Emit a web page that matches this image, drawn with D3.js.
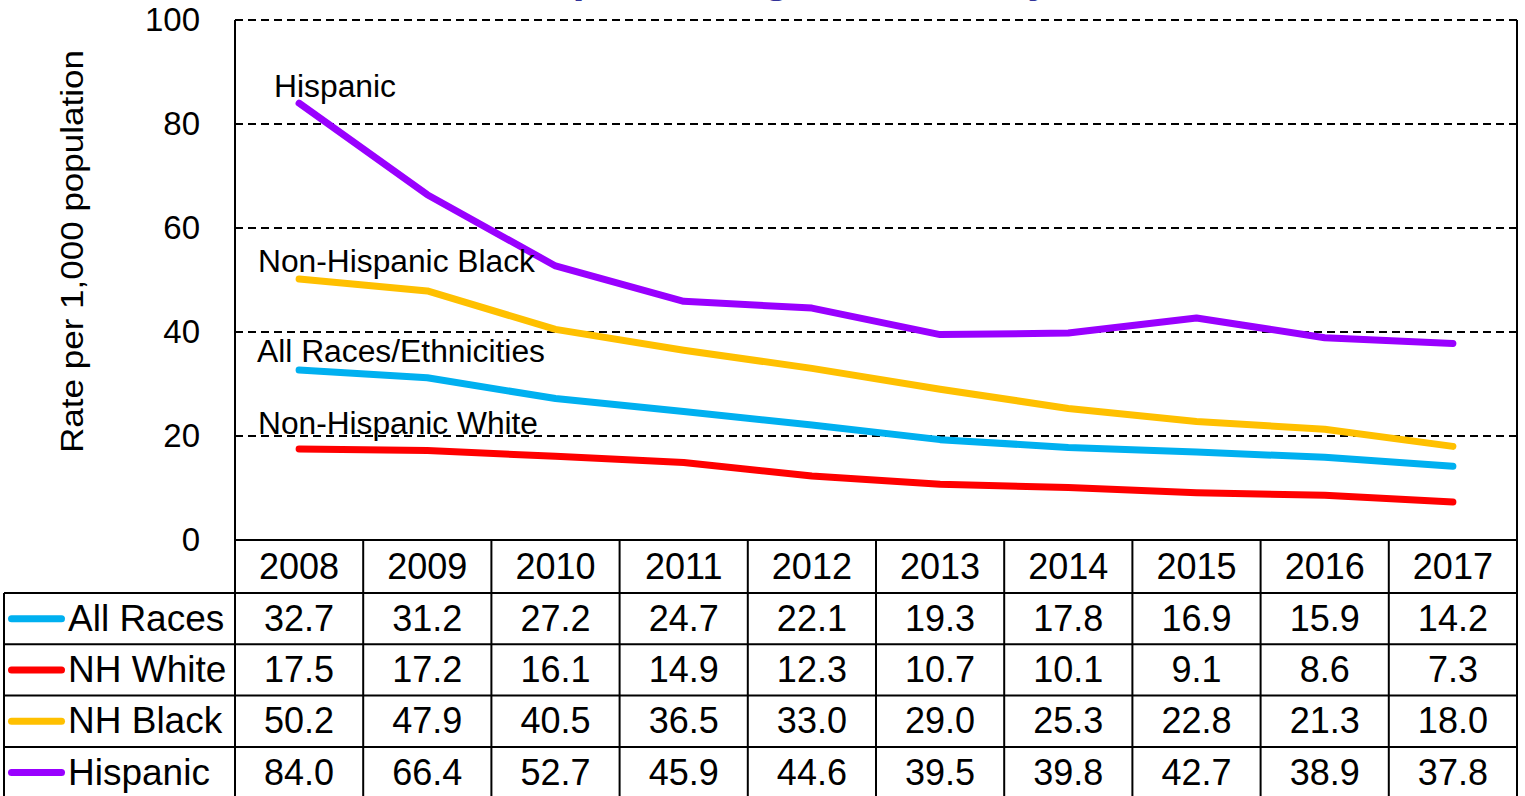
<!DOCTYPE html>
<html>
<head>
<meta charset="utf-8">
<script src="https://cdn.jsdelivr.net/npm/d3@7"></script>
<style>
  html, body { margin: 0; padding: 0; background: #fff; }
  svg { display: block; }
  text { font-family: "Liberation Sans", Arial, sans-serif; fill: #000; }
</style>
</head>
<body>
<svg id="chart" width="1525" height="796"></svg>
<script>
// ---- data ----
const years = [2008, 2009, 2010, 2011, 2012, 2013, 2014, 2015, 2016, 2017];
const allRaces = [32.7, 31.2, 27.2, 24.7, 22.1, 19.3, 17.8, 16.9, 15.9, 14.2];
const nhWhite  = [17.5, 17.2, 16.1, 14.9, 12.3, 10.7, 10.1, 9.1, 8.6, 7.3];
const nhBlack  = [50.2, 47.9, 40.5, 36.5, 33.0, 29.0, 25.3, 22.8, 21.3, 18.0];
const hispanic = [84.0, 66.4, 52.7, 45.9, 44.6, 39.5, 39.8, 42.7, 38.9, 37.8];
const yTicks = [0, 20, 40, 60, 80, 100];
const seriesNames = ["All Races", "NH White", "NH Black", "Hispanic"];
const annotationLabels = ["All Races/Ethnicities", "Non-Hispanic White", "Non-Hispanic Black", "Hispanic"];
const colors = ["#00B0F0", "#FF0000", "#FFC000", "#9900FF"];
const titleText = "Hispanic Origin, Kentucky, 2008\u20132017";
const yTitle = "Rate per 1,000 population";

const series = [allRaces, nhWhite, nhBlack, hispanic];

// ---- layout ----
const L = 235, R = 1517, T = 20, B = 540;
const tableLeft = 4, headerH = 53, rowH = 51.3, tableBottom = 800;

const svg = d3.select("#chart");

const x = d3.scaleBand().domain(years).range([L, R]).paddingInner(0).paddingOuter(0);
const xc = d => x(d) + x.bandwidth() / 2;
const y = d3.scaleLinear().domain([0, 100]).range([B, T]);

// title (cut off at top in reference)
svg.append("text").attr("x", 504).attr("y", -8)
  .style("font-size", "44px").style("font-weight", "bold").style("fill", "#333399")
  .text(titleText);

// gridlines
svg.append("g").selectAll("line").data(yTicks.filter(d => d > 0)).join("line")
  .attr("x1", L).attr("x2", R).attr("y1", d => y(d)).attr("y2", d => y(d))
  .attr("stroke", "#000").attr("stroke-width", 2).attr("stroke-dasharray", "8,5");

// y axis tick labels
const yAxis = d3.axisLeft(y).tickValues(yTicks).tickSize(0).tickPadding(35).tickFormat(d3.format("d"));
const ga = svg.append("g").attr("transform", `translate(${L},0)`).call(yAxis);
ga.select(".domain").remove();
ga.selectAll("text").style("font-size", "33px").style("font-family", "'Liberation Sans', Arial, sans-serif").attr("fill", "#000");

// y axis title
svg.append("text").attr("transform", "translate(83,251.5) rotate(-90)")
  .attr("text-anchor", "middle").style("font-size", "31px")
  .attr("textLength", 403).attr("lengthAdjust", "spacingAndGlyphs")
  .text(yTitle);

// lines
const line = d3.line().x((d, i) => xc(years[i])).y(d => y(d));
svg.append("g").selectAll("path").data(series).join("path")
  .attr("d", d => line(d)).attr("fill", "none")
  .attr("stroke", (d, i) => colors[i]).attr("stroke-width", 7)
  .attr("stroke-linejoin", "round").attr("stroke-linecap", "round");

// annotations
const ann = [
  { i: 3, x: 274, y: 97, len: 122 },
  { i: 2, x: 258, y: 272, len: 277 },
  { i: 0, x: 257, y: 362, len: 288 },
  { i: 1, x: 258, y: 434, len: 280 }
];
svg.append("g").selectAll("text").data(ann).join("text")
  .attr("x", d => d.x).attr("y", d => d.y).style("font-size", "31px")
  .attr("textLength", d => d.len).attr("lengthAdjust", "spacingAndGlyphs")
  .text(d => annotationLabels[d.i]);

// ---- data table ----
const tg = svg.append("g");
const rowTops = [B + headerH];
for (let k = 1; k <= 4; k++) rowTops.push(B + headerH + k * rowH);

// horizontal lines
tg.append("line").attr("x1", L).attr("x2", R).attr("y1", B).attr("y2", B);
rowTops.forEach(yy => tg.append("line").attr("x1", tableLeft).attr("x2", R).attr("y1", yy).attr("y2", yy));
// vertical lines
tg.append("line").attr("x1", L).attr("x2", L).attr("y1", T).attr("y2", tableBottom);
tg.append("line").attr("x1", R).attr("x2", R).attr("y1", T).attr("y2", tableBottom);
tg.append("line").attr("x1", tableLeft).attr("x2", tableLeft).attr("y1", B + headerH).attr("y2", tableBottom);
years.slice(1).forEach(yr => tg.append("line").attr("x1", x(yr)).attr("x2", x(yr)).attr("y1", B).attr("y2", tableBottom));
tg.selectAll("line").attr("stroke", "#000").attr("stroke-width", 2);

// header years
tg.append("g").selectAll("text").data(years).join("text")
  .attr("x", d => xc(d)).attr("y", B + headerH / 2 + 12)
  .attr("text-anchor", "middle").style("font-size", "36px").text(d => d);

// rows
seriesNames.forEach((name, r) => {
  const mid = rowTops[r] + rowH / 2;
  tg.append("line").attr("x1", 11.5).attr("x2", 61.5).attr("y1", mid).attr("y2", mid)
    .attr("stroke", colors[r]).attr("stroke-width", 7).attr("stroke-linecap", "round");
  tg.append("text").attr("x", 68).attr("y", mid + 12).style("font-size", "37px").text(name);
  tg.append("g").selectAll("text").data(series[r]).join("text")
    .attr("x", (d, i) => xc(years[i])).attr("y", mid + 12)
    .attr("text-anchor", "middle").style("font-size", "36px")
    .text(d => d3.format(".1f")(d));
});
</script>
</body>
</html>
